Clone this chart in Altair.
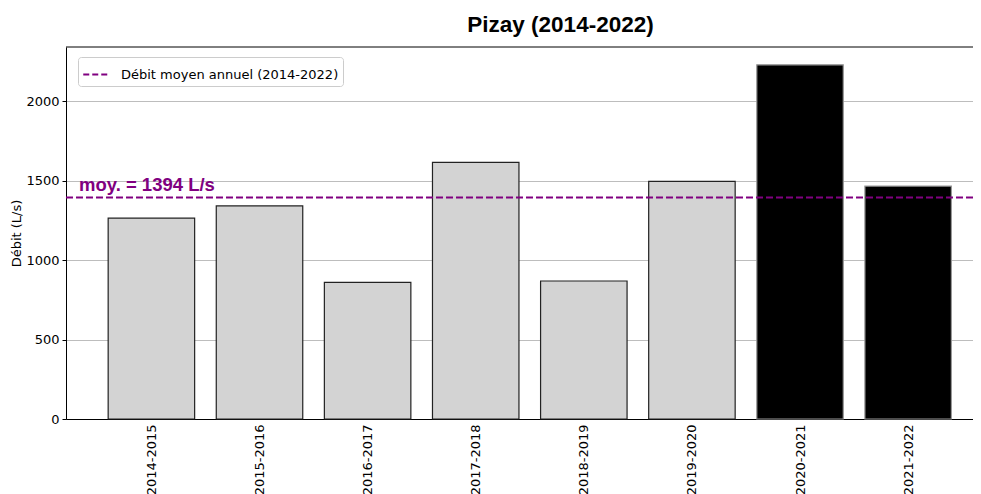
import json
import altair as alt
import pandas as pd

periodes = ["2014-2015", "2015-2016", "2016-2017", "2017-2018",
            "2018-2019", "2019-2020", "2020-2021", "2021-2022"]
debits = [1263, 1340, 860, 1614, 868, 1495, 2228, 1465]
moyenne = 1394
legende = "Débit moyen annuel (2014-2022)"
titre = "Pizay (2014-2022)"
yticks = [0, 500, 1000, 1500, 2000]
ymax = 2340

df = pd.DataFrame({"periode": periodes, "debit": debits, "i": list(range(len(periodes)))})
mdf = pd.DataFrame({"moyenne": [moyenne], "serie": [legende],
                    "texte": [f"moy. = {moyenne} L/s"]})
topdf = pd.DataFrame({"top": [ymax]})

n = len(periodes)
xscale = alt.Scale(domain=[-0.79, 7.6], nice=False, zero=False)
yscale = alt.Scale(domain=[0, ymax], nice=False)
label_expr = f"{json.dumps(periodes)}[datum.value]"

bars = alt.Chart(df).transform_calculate(
    x0="datum.i - 0.4", x1="datum.i + 0.4"
).mark_bar(strokeWidth=1.2).encode(
    x=alt.X("x0:Q", scale=xscale,
            axis=alt.Axis(values=list(range(n)), labelExpr=label_expr, title=None,
                          ticks=False, labelAngle=270, labelAlign="right",
                          labelBaseline="middle", labelPadding=5, grid=False,
                          domainColor="black", domainWidth=1)),
    x2="x1:Q",
    y=alt.Y("debit:Q", scale=yscale,
            axis=alt.Axis(values=yticks, format="d", title="Débit (L/s)", grid=True,
                          gridColor="#bdbdbd", gridWidth=1, tickSize=4,
                          tickColor="black", domainColor="black", domainWidth=1,
                          labelPadding=3, titleFontSize=13, titleFontWeight="normal",
                          titleFont="DejaVu Sans", titleColor="black",
                          titleX=-50, titleY=186, titleAngle=270,
                          titleAlign="center", titleBaseline="middle")),
    y2=alt.datum(0),
    fill=alt.condition("datum.i >= 6", alt.value("black"), alt.value("lightgray")),
    stroke=alt.condition("datum.i >= 6", alt.value("#999999"), alt.value("#222222")),
)

top_border = alt.Chart(topdf).mark_rule(color="black", strokeWidth=1).encode(
    y=alt.Y("top:Q", scale=yscale)
)

rule = alt.Chart(mdf).mark_rule(strokeDash=[7, 3], strokeWidth=2).encode(
    y="moyenne:Q",
    color=alt.Color("serie:N", scale=alt.Scale(range=["#800080"]),
                    legend=alt.Legend(title=None, orient="none", legendX=12, legendY=10,
                                      symbolType="stroke", symbolStrokeWidth=2,
                                      symbolDash=[6, 3], symbolSize=600,
                                      labelOffset=12, labelFontSize=13, labelLimit=0,
                                      labelFont="DejaVu Sans", labelColor="black",
                                      fillColor="white", strokeColor="#cccccc",
                                      cornerRadius=3, padding=4)),
)

txt = alt.Chart(mdf).mark_text(
    align="left", baseline="alphabetic", dy=-6, font="Liberation Sans",
    fontWeight="bold", fontSize=18.5, color="#800080"
).encode(
    x=alt.datum(-0.67),
    y="moyenne:Q",
    text="texte:N",
)

chart = alt.layer(bars, top_border, rule, txt).properties(
    width=907, height=372,
    padding={"left": 58, "top": 39, "right": 0, "bottom": 75},
    autosize=alt.AutoSizeParams(type="none"),
    title=alt.Title(titre, font="Liberation Sans", fontSize=22.5, fontWeight="bold",
                    color="black", anchor="middle", dx=41, dy=19, offset=11,
                    baseline="alphabetic"),
).configure_view(strokeWidth=0).configure_axis(
    labelFont="DejaVu Sans", labelFontSize=13, labelColor="black"
)

chart.save("out.html", embed_options={"renderer": "svg", "actions": False})
